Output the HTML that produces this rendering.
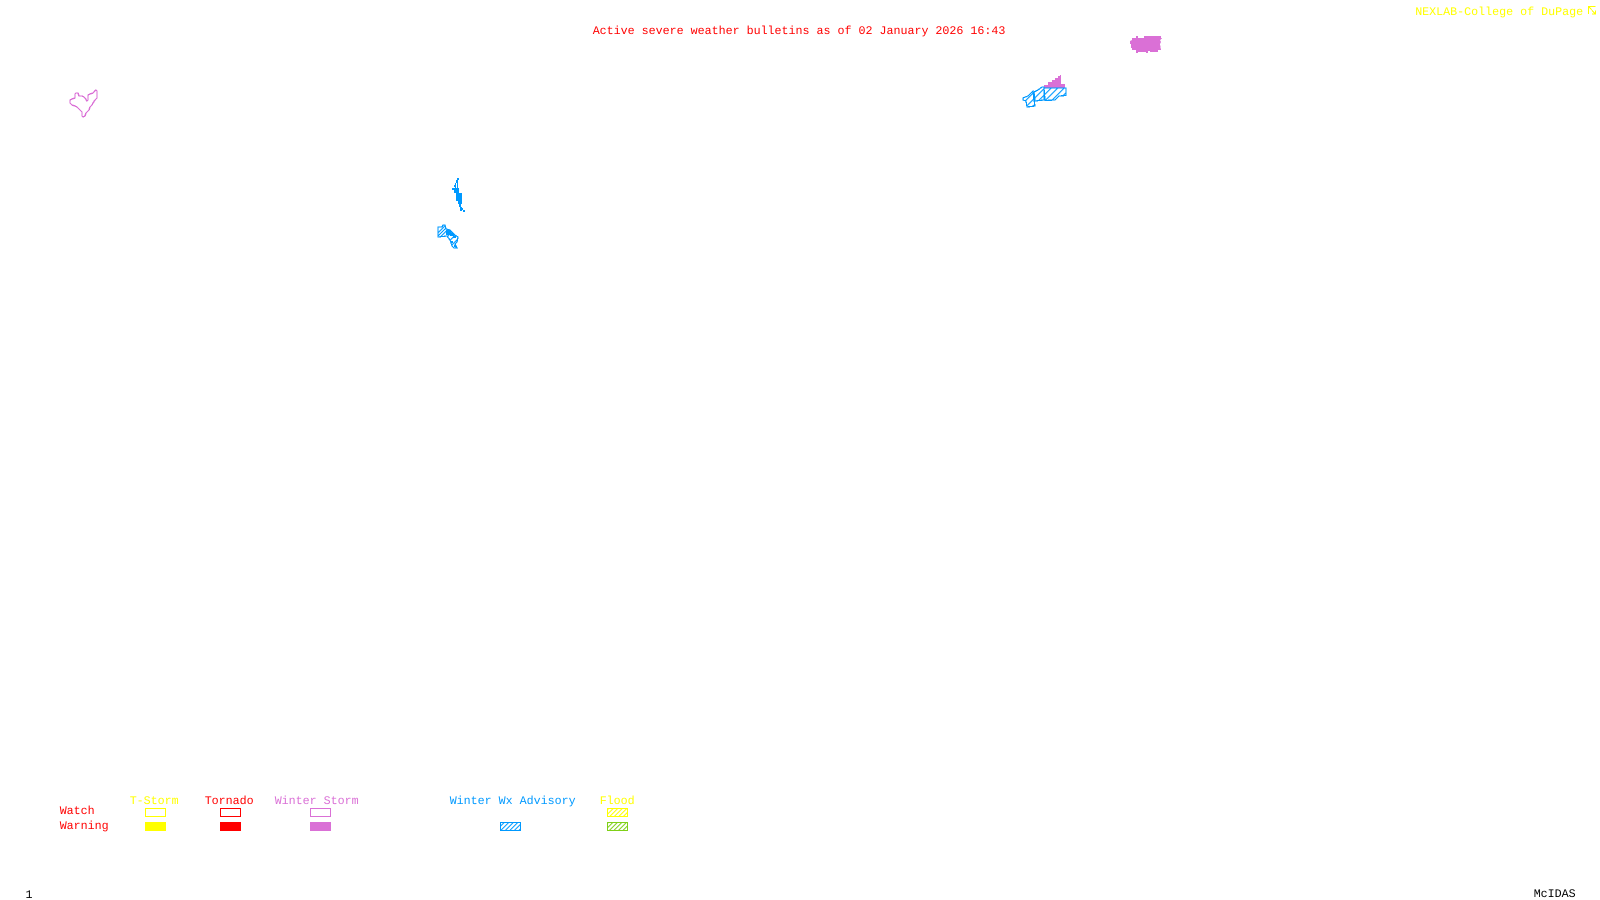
<!DOCTYPE html>
<html><head><meta charset="utf-8"><style>
html,body{margin:0;padding:0;background:#fff;width:1600px;height:900px;overflow:hidden}
svg{display:block}
text{font-family:"Liberation Mono",monospace;font-size:11.67px;text-rendering:geometricPrecision}
.s{shape-rendering:crispEdges}
</style></head><body>
<svg width="1600" height="900" viewBox="0 0 1600 900" xmlns="http://www.w3.org/2000/svg">
<defs>
<pattern id="hm" width="4.6" height="4.6" patternUnits="userSpaceOnUse" patternTransform="rotate(45)"><rect x="0" y="0" width="1.1" height="4.6" fill="#0099ff"/></pattern>
<pattern id="hb" width="3.2" height="3.2" patternUnits="userSpaceOnUse" patternTransform="rotate(45)"><rect x="0" y="0" width="1" height="3.2" fill="#0099ff"/></pattern>
<pattern id="hy" width="3.2" height="3.2" patternUnits="userSpaceOnUse" patternTransform="rotate(45)"><rect x="0" y="0" width="1" height="3.2" fill="#ffff00"/></pattern>
<pattern id="hg" width="3.2" height="3.2" patternUnits="userSpaceOnUse" patternTransform="rotate(45)"><rect x="0" y="0" width="1" height="3.2" fill="#7fd017"/></pattern>
</defs>
<rect width="1600" height="900" fill="#fff"/>

<text x="592.7" y="34" fill="#ff0000">Active severe weather bulletins as of 02 January 2026 16:43</text>
<text x="1415.2" y="15" fill="#ffff00">NEXLAB-College of DuPage</text>
<g class="s" fill="none" stroke="#ffff00" stroke-width="1">
<path d="M1588.5 14V6.5H1595.5M1588.5 6.5L1595.5 14M1592 14H1595.5V10.5"/>
</g>

<!-- left outline -->
<polygon class="s" fill="none" stroke="#da70d6" stroke-width="1.4" points="75,94 76,93 78,93 79,96 82,96 84,97 85,98 87,101 88,100 88,95 90,94 93,93 94,92 96,90 97,91 97,95 97,98 95,100 93,103 92,105 90,107 89,110 87,112 86,113 85,116 83,117 82,116 82,112 80,110 77,107 75,106 72,105 70,103 70,100 72,99 75,98"/>

<!-- upper right filled -->
<polygon class="s" fill="#da70d6" points="1130,41 1132,40 1132,38 1136,38 1136,36 1138,36 1138,38 1144,38 1144,36 1161,36 1161,38 1162,38 1160,40 1161,42 1160,44 1161,50 1158,50 1158,52 1150,52 1150,51 1148,51 1148,53 1146,53 1146,52 1138,52 1138,53 1136,53 1136,50 1132,50 1132,48 1131,48 1131,44 1130,44"/>

<!-- right cluster -->
<polygon class="s" fill="#da70d6" points="1044,88 1044,85 1048,85 1048,82 1052,82 1052,80 1055,80 1055,78 1058,78 1058,76 1060,76 1060,75 1061,75 1061,84 1065,84 1065,88"/>
<g class="s" stroke="#0099ff" stroke-width="1.2" fill="url(#hm)">
<polygon points="1044,88 1066,88 1066,95.5 1059,96 1055,100 1045,100.5"/>
<polygon points="1034,92 1038,90 1042,87 1044,87 1044,100 1035,101"/>
<polygon points="1023,98 1028,96 1033,91 1034,100 1035,106 1027,107 1026,101 1023,100"/>
</g>

<!-- west blue -->
<g class="s" fill="#0099ff">
<rect x="457" y="178" width="2" height="2"/>
<rect x="456" y="180" width="2" height="3"/>
<rect x="455" y="183" width="1" height="5"/>
<rect x="457" y="183" width="1" height="5"/>
<rect x="454" y="185" width="2" height="2"/>
<rect x="452" y="188" width="7" height="2"/>
<rect x="454" y="190" width="5" height="3"/>
<rect x="456" y="193" width="6" height="8"/>
<rect x="458" y="201" width="4" height="3"/>
<rect x="459" y="204" width="2" height="3"/>
<rect x="460" y="207" width="2" height="4"/>
<rect x="462" y="208" width="1" height="2"/>
<rect x="463" y="210" width="2" height="2"/>
</g>
<g class="s" stroke="#0099ff" stroke-width="1.2" fill="none">
<polygon fill="url(#hm)" points="438,227 442,227 443,225 445,225 446,229 450,230 452,232 455,235 458,237 457,242 455,244 457,248 454,248 452,246 450,240 447,236 438,237"/>
<line x1="438" y1="236" x2="446" y2="228"/>
</g>
<g class="s" fill="#0099ff">
<rect x="446" y="230" width="5" height="5"/>
<rect x="450" y="233" width="4" height="3"/>
<rect x="453" y="236" width="3" height="2"/>
<rect x="451" y="241" width="2" height="2"/>
<rect x="454" y="245" width="2" height="2"/>
</g>

<!-- legend text -->
<text x="129.7" y="804" fill="#ffff00">T-Storm</text>
<text x="204.7" y="804" fill="#ff0000">Tornado</text>
<text x="274.7" y="804" fill="#da70d6">Winter Storm</text>
<text x="449.7" y="804" fill="#0099ff">Winter Wx Advisory</text>
<text x="599.7" y="804" fill="#ffff00">Flood</text>
<text x="59.7" y="814" fill="#ff0000">Watch</text>
<text x="59.7" y="829" fill="#ff0000">Warning</text>

<!-- legend boxes -->
<g class="s" fill="none" stroke-width="1">
<rect x="145.5" y="808.5" width="20" height="8" stroke="#ffff00"/>
<rect x="220.5" y="808.5" width="20" height="8" stroke="#ff0000"/>
<rect x="310.5" y="808.5" width="20" height="8" stroke="#da70d6"/>
<rect x="607.5" y="808.5" width="20" height="8" stroke="#ffff00" fill="url(#hy)"/>
<rect x="500.5" y="822.5" width="20" height="8" stroke="#0099ff" fill="url(#hb)"/>
<rect x="607.5" y="822.5" width="20" height="8" stroke="#7fd017" fill="url(#hg)"/>
</g>
<rect class="s" x="145" y="822" width="21" height="9" fill="#ffff00"/>
<rect class="s" x="220" y="822" width="21" height="9" fill="#ff0000"/>
<rect class="s" x="310" y="822" width="21" height="9" fill="#da70d6"/>

<text x="1533.7" y="897" fill="#000">McIDAS</text>
<text x="25.5" y="898" fill="#000">1</text>
</svg>
</body></html>
